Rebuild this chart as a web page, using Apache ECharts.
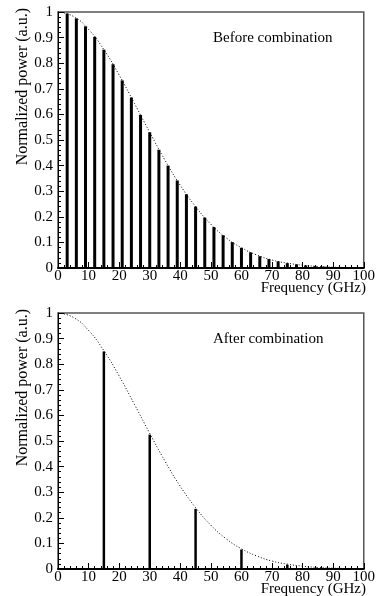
<!DOCTYPE html>
<html>
<head>
<meta charset="utf-8">
<script src="https://cdn.jsdelivr.net/npm/echarts@6/dist/echarts.min.js"></script>
<style>
html,body{margin:0;padding:0;background:#fff;}
#chart{width:378px;height:596px;}
</style>
</head>
<body>
<div id="chart"></div>
<script>
// Data
const freqTop = [3,6,9,12,15,18,21,24,27,30,33,36,39,42,45,48,51,54,57,60,63,66,69,72,75,78,81,84,87,90,93,96,99];
const powerTop = [0.994,0.975,0.944,0.903,0.853,0.796,0.733,0.666,0.598,0.53,0.462,0.40,0.342,0.288,0.24,0.197,0.16,0.128,0.101,0.079,0.061,0.046,0.035,0.026,0.019,0.014,0.010,0.007,0.005,0.003,0.002,0.0015,0.001];
const freqBottom = [15,30,45,60,75];
const powerBottom = [0.85,0.525,0.235,0.076,0.017];
const envelopeFreq = [0,5,10,15,20,25,30,35,40,45,50,55,60,65,70,75,80,85,90,95,100];
const envelopePower = [1,0.983,0.932,0.853,0.754,0.643,0.53,0.421,0.323,0.24,0.171,0.118,0.079,0.051,0.031,0.019,0.011,0.006,0.003,0.002,0.001];
const xTicks = [0,10,20,30,40,50,60,70,80,90,100];
const yTicks = ['0','0.1','0.2','0.3','0.4','0.5','0.6','0.7','0.8','0.9','1'];
const panelLabels = ['Before combination','After combination'];
const xAxisTitle = 'Frequency (GHz)';
const yAxisTitle = 'Normalized power (a.u.)';

const serif = 'Liberation Serif, Times New Roman, serif';
const pair = (xs, ys) => xs.map((x, i) => [x, ys[i]]);

const chart = echarts.init(document.getElementById('chart'), null, {renderer: 'canvas'});

const gridTops = [12, 313];
const grids = gridTops.map(t => ({
  left: 58, top: t, width: 309, height: 256,
  show: true, borderColor: '#555', borderWidth: 1.5, backgroundColor: 'transparent'
}));

const xAxes = [0, 1].map(i => ({
  type: 'value', gridIndex: i, min: 0, max: 100, interval: 10,
  axisLine: {show: true, onZero: false, lineStyle: {color: '#000', width: 2}},
  axisTick: {show: true, inside: true, length: 6, lineStyle: {color: '#000', width: 1}},
  minorTick: {show: true, splitNumber: 5, length: 3, lineStyle: {color: '#000', width: 1}},
  splitLine: {show: false},
  axisLabel: {color: '#000', fontFamily: serif, fontSize: 15, margin: 1,
    formatter: v => xTicks.indexOf(v) >= 0 ? String(v) : ''}
}));

const yAxes = [0, 1].map(i => ({
  type: 'value', gridIndex: i, min: 0, max: 1, interval: 0.1,
  axisLine: {show: true, onZero: false, lineStyle: {color: '#000', width: 1}},
  axisTick: {show: true, inside: true, length: 6, lineStyle: {color: '#000', width: 1}},
  minorTick: {show: true, splitNumber: 5, length: 3, lineStyle: {color: '#000', width: 1}},
  splitLine: {show: false},
  axisLabel: {color: '#000', fontFamily: serif, fontSize: 15, margin: 5,
    formatter: v => yTicks[Math.round(v * 10)]}
}));

const series = [
  {type: 'bar', xAxisIndex: 0, yAxisIndex: 0, data: pair(freqTop, powerTop),
   barWidth: 3, itemStyle: {color: '#000'}, silent: true},
  {type: 'line', xAxisIndex: 0, yAxisIndex: 0, data: pair(envelopeFreq, envelopePower),
   smooth: true, showSymbol: false, lineStyle: {color: '#000', width: 1, type: [1, 2]}, silent: true, z: 3},
  {type: 'bar', xAxisIndex: 1, yAxisIndex: 1, data: pair(freqBottom, powerBottom),
   barWidth: 2.5, itemStyle: {color: '#000'}, silent: true},
  {type: 'line', xAxisIndex: 1, yAxisIndex: 1, data: pair(envelopeFreq, envelopePower),
   smooth: true, showSymbol: false, lineStyle: {color: '#000', width: 1, type: [1, 2]}, silent: true, z: 3}
];

const textStyle = {fill: '#000', fontFamily: serif, fontSize: 15};
const graphic = [];
[0, 1].forEach(i => {
  const t = gridTops[i];
  graphic.push({type: 'text', x: 213, y: t + 26,
    style: Object.assign({text: panelLabels[i], verticalAlign: 'middle', align: 'left'}, textStyle)});
  graphic.push({type: 'text', x: 366, y: t + 269,
    style: Object.assign({text: xAxisTitle, verticalAlign: 'top', align: 'right'}, textStyle)});
  graphic.push({type: 'text', x: 23, y: t - 4, rotation: Math.PI / 2,
    style: Object.assign({text: yAxisTitle, verticalAlign: 'middle', align: 'right'}, textStyle, {fontSize: 16})});
});

chart.setOption({
  animation: false,
  grid: grids,
  xAxis: xAxes,
  yAxis: yAxes,
  series: series,
  graphic: graphic
});
</script>
</body>
</html>
